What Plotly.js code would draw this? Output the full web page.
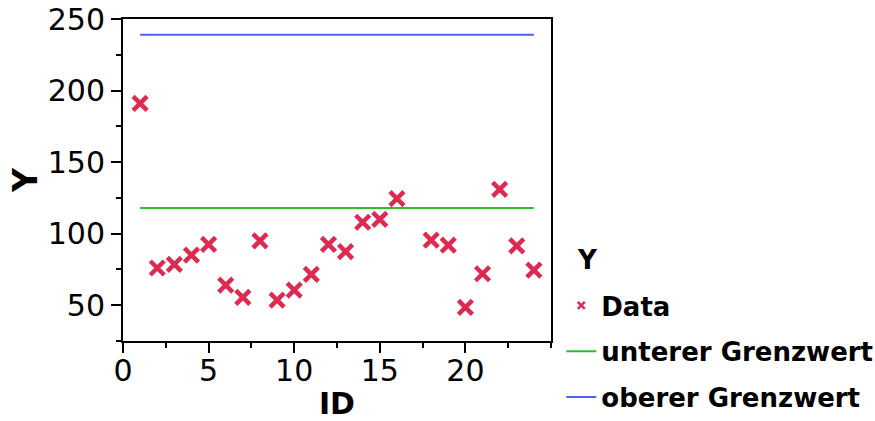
<!DOCTYPE html>
<html>
<head>
<meta charset="utf-8">
<script src="https://cdn.plot.ly/plotly-3.0.1.min.js"></script>
<style>html,body{margin:0;padding:0;background:#fff;}#chart{width:875px;height:421px;}</style>
</head>
<body>
<div id="chart"></div>
<script>
const ids = [1,2,3,4,5,6,7,8,9,10,11,12,13,14,15,16,18,19,20,21,22,23,24];
const values = [191,76,78.5,85,92.5,64,55.5,95,53.5,60.5,71.5,92.5,87.5,108,110,124.5,95.5,92,48.5,72,131,91.5,74.5];
const limitX = [1,24];
const lowerLimit = [118,118];
const upperLimit = [239,239];
const xTicks = [0,5,10,15,20];
const yTicks = [50,100,150,200,250];

const F = "DejaVu Sans, Verdana, sans-serif";
const red = '#dc2a50';
const traces = [
  {x: ids, y: values, mode: 'markers', type: 'scatter', name: 'Data', showlegend: false,
   marker: {symbol: 'x-thin', size: 14, color: red, line: {width: 4.5, color: red}}},
  {x: [null], y: [null], mode: 'markers', type: 'scatter', name: '<b>Data</b>', legendgroup: 'a',
   marker: {symbol: 'x-thin', size: 7, color: red, line: {width: 2.5, color: red}}},
  {x: limitX, y: lowerLimit, mode: 'lines', type: 'scatter', name: '<b>unterer Grenzwert</b>', legendgroup: 'b',
   line: {color: '#2ebd2e', width: 2}},
  {x: limitX, y: upperLimit, mode: 'lines', type: 'scatter', name: '<b>oberer Grenzwert</b>', legendgroup: 'c',
   line: {color: '#4a63f0', width: 2}}
];
const layout = {
  width: 875, height: 421,
  margin: {l: 123, r: 324, t: 19, b: 80, autoexpand: false},
  paper_bgcolor: '#fff', plot_bgcolor: '#fff',
  font: {family: F, color: '#000'},
  xaxis: {range: [0, 25], tickvals: xTicks, ticktext: xTicks.map(String), ticks: 'outside', ticklen: 10, tickwidth: 2,
    tickcolor: '#000', showline: true, linecolor: '#000', linewidth: 2, mirror: true, showgrid: false, zeroline: false,
    tickfont: {size: 30, family: F}, ticklabelstandoff: -8, automargin: true,
    minor: {dtick: 2.5, ticks: 'outside', ticklen: 5, tickwidth: 2, tickcolor: '#000', showgrid: false},
    title: {text: '<b>ID</b>', font: {size: 30, family: F}, standoff: 18}},
  yaxis: {range: [25, 250], tickvals: yTicks, ticktext: yTicks.map(String), ticks: 'outside', ticklen: 10, tickwidth: 2,
    tickcolor: '#000', showline: true, linecolor: '#000', linewidth: 2, mirror: true, showgrid: false, zeroline: false,
    tickfont: {size: 30, family: F}, automargin: true,
    minor: {dtick: 25, ticks: 'outside', ticklen: 5, tickwidth: 2, tickcolor: '#000', showgrid: false},
    title: {text: '<b>Y</b>', font: {size: 33, family: F}, standoff: 0}},
  legend: {x: 1.024, y: 0.183, xanchor: 'left', yanchor: 'top', traceorder: 'grouped', tracegroupgap: 9,
    font: {size: 26, family: F}, itemwidth: 30, bgcolor: 'rgba(0,0,0,0)'},
  annotations: [{xref: 'paper', yref: 'paper', x: 1.057, y: (341 - 260) / 322, xanchor: 'left', yanchor: 'middle',
    text: '<b>Y</b>', showarrow: false, font: {size: 26, family: F}}],
  showlegend: true
};
Plotly.newPlot('chart', traces, layout, {displayModeBar: false, staticPlot: true});
</script>
</body>
</html>
